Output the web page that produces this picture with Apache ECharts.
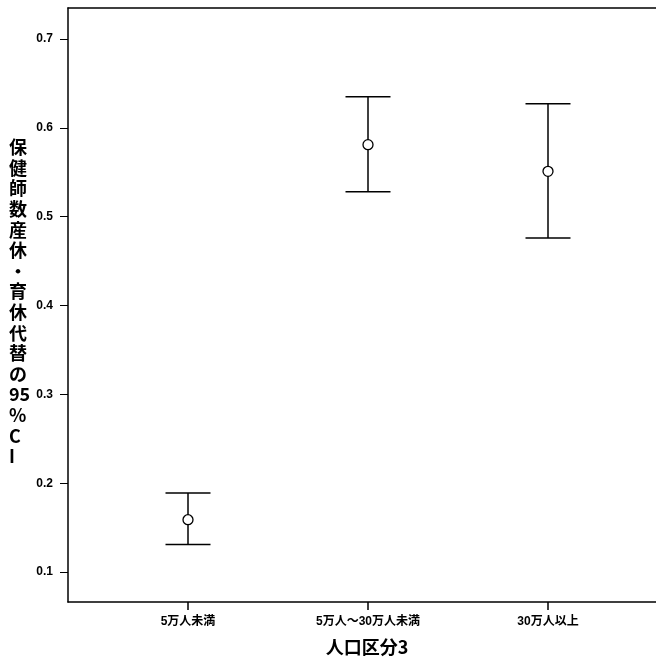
<!DOCTYPE html>
<html><head><meta charset="utf-8">
<script src="https://cdn.jsdelivr.net/npm/echarts@6/dist/echarts.min.js"></script>
<style>html,body{margin:0;padding:0;background:#fff}#c{width:656px;height:661px}</style>
</head><body><div id="c"></div>
<script>
const categories = ['5万人未満', '5万人～30万人未満', '30万人以上'];
const means = [0.159, 0.581, 0.551];
const lower = [0.131, 0.528, 0.476];
const upper = [0.189, 0.635, 0.627];
const yTicks = [0.1, 0.2, 0.3, 0.4, 0.5, 0.6, 0.7];
const yTitleLines = ['保','健','師','数','産','休','・','育','休','代','替','の','95','%','C','I'];
const xTitle = '人口区分3';

const xPos = categories.map((c, i) => i + 1);
const chart = echarts.init(document.getElementById('c'), null, {renderer: 'canvas'});
const font = '"Liberation Sans", Arial, "Noto Sans CJK JP", sans-serif';
const xMin = 1/3, xMax = 1/3 + 588/180;
chart.setOption({
  animation: false,
  grid: {left: 68, top: 8, right: 0, bottom: 57},
  xAxis: [{
    type: 'value', min: xMin, max: xMax,
    axisLine: {show: true, lineStyle: {color: '#000', width: 1.5}},
    axisTick: {show: true, length: 8, customValues: xPos, lineStyle: {color: '#000', width: 1.5}},
    splitLine: {show: false},
    axisLabel: {customValues: xPos, formatter: v => categories[Math.round(v) - 1] || '',
      color: '#000', fontSize: 12, fontWeight: 'bold', fontFamily: font, margin: 14},
    name: xTitle, nameLocation: 'middle', nameGap: 36,
    nameTextStyle: {color: '#000', fontSize: 18, fontWeight: 'bold', fontFamily: '"Noto Sans CJK JP", sans-serif', padding: [0, 0, 0, 10]}
  }, {
    type: 'value', position: 'top', min: xMin, max: xMax,
    axisLine: {show: true, lineStyle: {color: '#000', width: 1.5}},
    axisTick: {show: false}, axisLabel: {show: false}, splitLine: {show: false}
  }],
  yAxis: {
    type: 'value', min: 0.0664, max: 0.7348,
    axisLine: {show: true, lineStyle: {color: '#000', width: 1.5}},
    axisTick: {show: true, length: 8, customValues: yTicks, lineStyle: {color: '#000', width: 1}},
    splitLine: {show: false},
    axisLabel: {customValues: yTicks, formatter: v => v.toFixed(1), color: '#000', fontSize: 12, fontWeight: 'bold', fontFamily: font, margin: 15}
  },
  graphic: [{
    type: 'text', left: 9, top: 137,
    style: {text: yTitleLines.join('\n'), fill: '#000', font: 'bold 18px "Noto Sans CJK JP", sans-serif', lineHeight: 20.6, align: 'center'}
  }],
  series: [{
    type: 'custom',
    data: xPos.map((x, i) => [x, lower[i], upper[i]]),
    renderItem: function (params, api) {
      const lo = api.coord([api.value(0), api.value(1)]);
      const hi = api.coord([api.value(0), api.value(2)]);
      const hw = 22.5;
      const st = {stroke: '#000', lineWidth: 1.5};
      return {type: 'group', children: [
        {type: 'line', shape: {x1: lo[0], y1: lo[1], x2: hi[0], y2: hi[1]}, style: st},
        {type: 'line', shape: {x1: lo[0]-hw, y1: lo[1], x2: lo[0]+hw, y2: lo[1]}, style: st},
        {type: 'line', shape: {x1: hi[0]-hw, y1: hi[1], x2: hi[0]+hw, y2: hi[1]}, style: st}
      ]};
    },
    z: 2
  }, {
    type: 'scatter',
    data: xPos.map((x, i) => [x, means[i]]),
    symbol: 'circle', symbolSize: 10,
    itemStyle: {color: '#fff', borderColor: '#000', borderWidth: 1.3, opacity: 1},
    z: 3
  }]
});
</script></body></html>
